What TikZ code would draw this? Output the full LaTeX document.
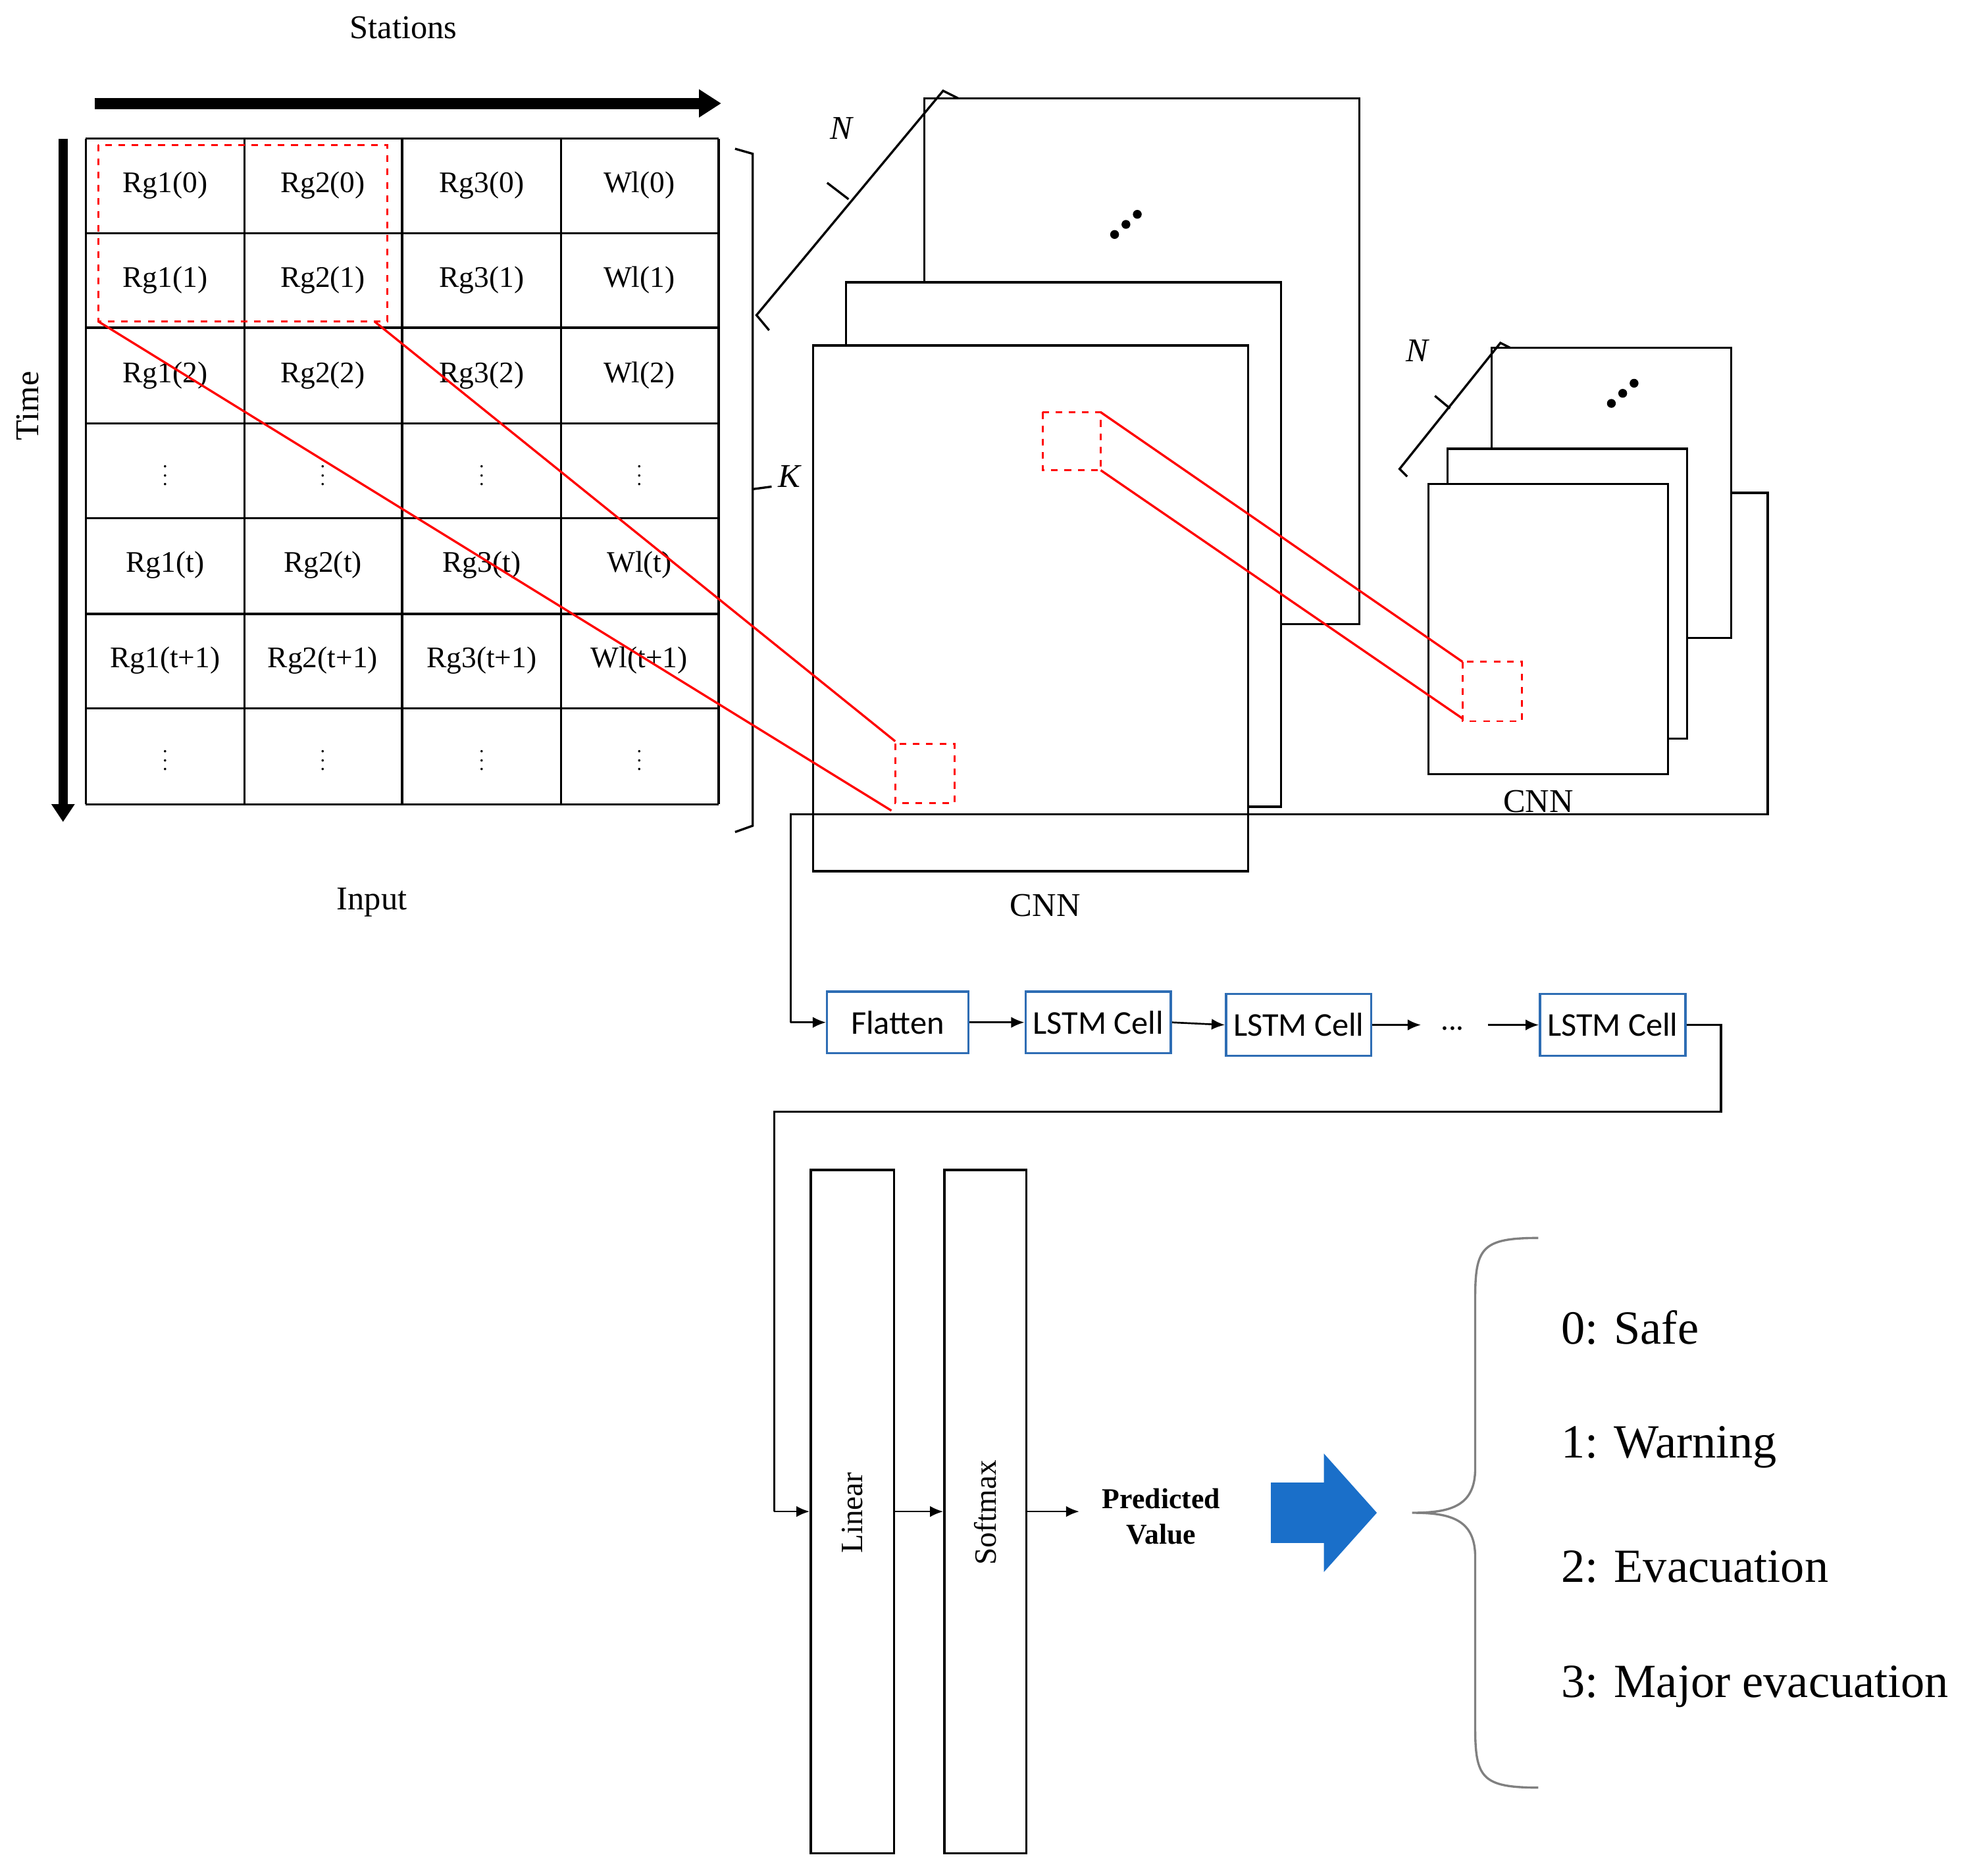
\documentclass[tikz,border=0pt]{standalone}
\usepackage{fontspec}
\setmainfont{Liberation Serif}
\newfontfamily\calfont{Carlito}
\usetikzlibrary{arrows.meta,decorations.pathreplacing,calc}
\definecolor{bblue}{HTML}{1A6FC9}
\definecolor{bline}{HTML}{2E6DB4}
\begin{document}
\begin{tikzpicture}[x=0.02cm,y=-0.02cm,
  cell/.style={font=\fontsize{13.5}{14}\selectfont},
  fr/.style={draw,fill=white,line width=1pt},
  rl/.style={red,line width=1pt},
  rd/.style={red,dashed,line width=0.8pt},
  bx/.style={draw=bline,line width=1pt,font=\calfont\fontsize{15}{16}\selectfont,minimum width=2.24cm,minimum height=0.98cm},
  ar/.style={-{Latex[length=6pt,width=5pt]},line width=0.8pt},
  ln/.style={line width=1pt}]
\useasboundingbox (0,0) rectangle (1568,1488);
% axes
\node[font=\fontsize{15}{16}\selectfont] (st) at (320,22) {Stations};
\coordinate (sa) at (75,82); \coordinate (sb) at (572,82);
\draw[line width=5pt,-{Triangle[length=10pt,width=12pt]}] (sa) -- (sb);
\coordinate (ta) at (50,110); \coordinate (tb) at (50,652);
\draw[line width=4pt,-{Triangle[length=8pt,width=10pt]}] (ta) -- (tb);
\node[rotate=90,font=\fontsize{15}{16}\selectfont] (time) at (22,322) {Time};
% table
\foreach \x in {68,194,319,445,570}{\draw[ln] (\x,110) -- (\x,638);}
\foreach \y in {110,185,260,336,411,487,562,638}{\draw[ln] (68,\y) -- (570,\y);}
\foreach \r/\y in {0/147,1/222,2/298}{
  \node[cell] at (131,\y) {Rg1(\r)}; \node[cell] at (256,\y) {Rg2(\r)};
  \node[cell] at (382,\y) {Rg3(\r)}; \node[cell] at (507,\y) {Wl(\r)};}
\foreach \r/\y in {t/448,t+1/524}{
  \node[cell] at (131,\y) {Rg1(\r)}; \node[cell] at (256,\y) {Rg2(\r)};
  \node[cell] at (382,\y) {Rg3(\r)}; \node[cell] at (507,\y) {Wl(\r)};}
\foreach \y in {372,598}{\foreach \x in {131,256,382,507}{\node[font=\fontsize{9}{10}\selectfont] at (\x,\y) {$\vdots$};}}
\draw[rd] (78,115) rectangle (307,255);
\draw[ln] (583,118) -- (597,122) -- (597,655) -- (583,660);
\draw[ln] (597,388) -- (612,386);
\node[font=\itshape\fontsize{15}{16}\selectfont] (k) at (626,378) {K};
\node[font=\fontsize{15}{16}\selectfont] (inp) at (295,716) {Input};
% CNN 1
\draw[fr] (733,78) rectangle (1078,495);
\draw[fr] (671,224) rectangle (1016,640);
\draw[fr] (645,274) rectangle (990,691);
\draw[ln] (610,262) -- (600,250) -- (748,72) -- (760,78);
\draw[ln] (656,145) -- (673,158);
\node[font=\itshape\fontsize{15}{16}\selectfont] at (667,102) {N};
\foreach \i in {0,1,2}{\fill (884+9*\i,186-8*\i) circle (3.5);}
\node[font=\fontsize{15}{16}\selectfont] (cnn1) at (829,718) {CNN};
\draw[rd] (710,590) rectangle (757,637);
\draw[rl] (78,255) -- (707,643);
\draw[rl] (297,255) -- (710,588);
% CNN 2
\draw[fr] (1183,276) rectangle (1373,506);
\draw[fr] (1148,356) rectangle (1338,586);
\draw[fr] (1133,384) rectangle (1323,614);
\draw[ln] (1116,378) -- (1110,372) -- (1190,272) -- (1198,276);
\draw[ln] (1138,314) -- (1150,324);
\node[font=\itshape\fontsize{15}{16}\selectfont] at (1124,278) {N};
\foreach \i in {0,1,2}{\fill (1278+9*\i,320-8*\i) circle (3.5);}
\node[font=\fontsize{15}{16}\selectfont] (cnn2) at (1220,636) {CNN};
\draw[rd] (827,327) rectangle (873,373);
\draw[rd] (1160,525) rectangle (1207,572);
\draw[rl] (873,327) -- (1160,525);
\draw[rl] (873,373) -- (1160,570);
% LSTM row
\node[bx] (fl) at (712,811) {Flatten};
\node[bx] (l1) at (871,811) {LSTM Cell};
\node[bx] (l2) at (1030,813) {LSTM Cell};
\node[bx] (l3) at (1279,813) {LSTM Cell};
\node[font=\calfont\fontsize{14}{15}\selectfont] (dots) at (1152,816) {...};
\draw[ln] (1373,391) -- (1402,391) -- (1402,646) -- (627,646) -- (627,811);
\draw[ar] (627,811) -- (fl.west);
\draw[ar] (fl.east) -- (l1.west);
\draw[ar] (l1.east) -- (l2.west);
\draw[ar] (l2.east) -- (1127,813);
\draw[ar] (1180,813) -- (l3.west);
% linear / softmax
\node[draw,line width=1pt,minimum width=1.32cm,minimum height=10.84cm] (lin) at (676,1199) {};
\node[draw,line width=1pt,minimum width=1.30cm,minimum height=10.84cm] (sm) at (781.5,1199) {};
\node[rotate=90,font=\fontsize{14}{15}\selectfont] at (676,1200) {Linear};
\node[rotate=90,font=\fontsize{14}{15}\selectfont] at (781.5,1200) {Softmax};
\draw[ln] (l3.east) -- (1365,813) -- (1365,882) -- (614,882) -- (614,1199);
\draw[ar] (614,1199) -- (lin.west);
\draw[ar] (lin.east) -- (sm.west);
\node[font=\bfseries\fontsize{13}{16}\selectfont,align=center] (pv) at (921,1203) {Predicted\\Value};
\draw[ar] (sm.east) -- (856,1199);
\fill[bblue] (1008,1176) -- (1050,1176) -- (1050,1153) -- (1092,1200) -- (1050,1247) -- (1050,1224) -- (1008,1224) -- cycle;
\draw[gray,line width=1pt] (1220,982) .. controls (1175,982) and (1170,990) .. (1170,1030) -- (1170,1165) .. controls (1170,1195) and (1150,1200) .. (1120,1200) .. controls (1150,1200) and (1170,1205) .. (1170,1235) -- (1170,1370) .. controls (1170,1410) and (1175,1418) .. (1220,1418);
\foreach \t/\y in {{0: Safe}/1053,{1: Warning}/1148,{2: Evacuation}/1243,{3: Major evacuation}/1338}
  \node[anchor=west,font=\fontsize{21.5}{24}\selectfont] at (1232,\y) {\t};
\end{tikzpicture}
\end{document}
